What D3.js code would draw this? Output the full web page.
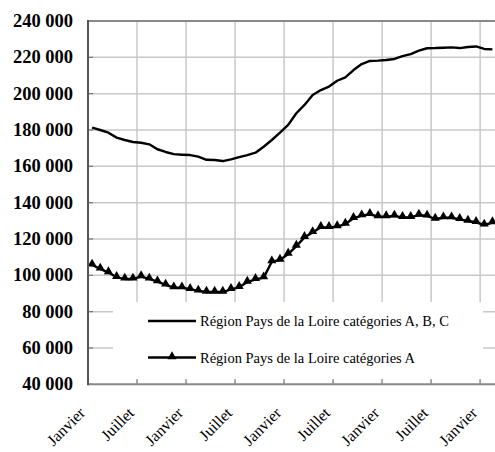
<!DOCTYPE html>
<html><head><meta charset="utf-8">
<script src="https://cdn.jsdelivr.net/npm/d3@7/dist/d3.min.js"></script>
<style>body{margin:0;background:#fff}svg{display:block}
text{font-family:"Liberation Serif","Times New Roman",Times,"DejaVu Serif",serif}</style>
</head><body>
<svg id="c" width="495" height="452"></svg>
<script>
const seriesNames = ["Région Pays de la Loire catégories A, B, C", "Région Pays de la Loire catégories A"];
const abc = [181300,180000,178500,175800,174500,173400,173000,172100,169400,167900,
  166700,166400,166200,165300,163600,163500,162900,163800,165100,166200,
  167500,170800,174500,178500,182800,189200,193800,199300,202000,203900,
  207100,209000,213000,216300,218000,218200,218500,219100,220700,221800,
  223700,225000,225100,225300,225500,225100,225700,226000,224600,224400];
const catA = [105700,103500,101500,98900,98000,98000,99300,98000,96500,94700,
  93200,93200,92300,91400,90800,90800,90800,92300,93400,96300,
  97800,98700,107500,108400,111700,116100,120900,123600,126400,126400,
  126800,128200,131400,132800,133600,132300,132300,132700,131900,131900,
  133200,132700,131000,131700,131700,130800,129900,129200,127700,129000];
const monthLabels = ["Janvier","Juillet","Janvier","Juillet","Janvier","Juillet","Janvier","Juillet","Janvier"];
const yTicks = [40000,60000,80000,100000,120000,140000,160000,180000,200000,220000,240000];

const svg = d3.select("#c");
const L = 88, T = 21, B = 384.3, n = abc.length, bw = 8.17;
const R = L + n * bw;
const idx = d3.range(n);
const x = d3.scaleBand().domain(idx).range([L, R]).padding(0);
const cx = i => x(i) + x.bandwidth() / 2;
const y = d3.scaleLinear().domain([40000, 240000]).range([B, T]);
const fmt = v => d3.format(",")(v).replace(/,/g, "\u00a0");

// gridlines
const g = svg.append("g");
g.selectAll(".hg").data(yTicks.slice(1, -1)).join("line")
  .attr("x1", L).attr("x2", R).attr("y1", d => y(d)).attr("y2", d => y(d))
  .attr("stroke", "#c8c8c8").attr("stroke-width", 1.5);
const vIdx = d3.range(6, n + 1, 6);
g.selectAll(".vg").data(vIdx).join("line")
  .attr("x1", d => L + d * x.bandwidth()).attr("x2", d => L + d * x.bandwidth())
  .attr("y1", T).attr("y2", B)
  .attr("stroke", "#c8c8c8").attr("stroke-width", 1.5);

// y ticks (inside)
svg.selectAll(".yt").data(yTicks).join("line")
  .attr("x1", L).attr("x2", L + 5).attr("y1", d => y(d)).attr("y2", d => y(d))
  .attr("stroke", "#777").attr("stroke-width", 1.2);

// lines
const line = d3.line().x((d, i) => cx(i)).y(d => y(d));
svg.append("path").datum(abc).attr("d", line).attr("fill", "none")
  .attr("stroke", "#000").attr("stroke-width", 2.4).attr("stroke-linejoin", "round");
svg.append("path").datum(catA).attr("d", line).attr("fill", "none")
  .attr("stroke", "#000").attr("stroke-width", 2.4).attr("stroke-linejoin", "round");
const tri = d3.symbol().type(d3.symbolTriangle).size(36);
svg.selectAll(".m").data(catA).join("path")
  .attr("d", tri).attr("transform", (d, i) => `translate(${cx(i)},${y(d) - 1})`)
  .attr("fill", "#000");

// legend box
const lg = svg.append("g");
lg.append("rect").attr("x", 113).attr("y", 302).attr("width", 370).attr("height", 77).attr("fill", "#fff");
const ly = [321, 357.5];
lg.selectAll(".ll").data(seriesNames).join("line")
  .attr("x1", 148).attr("x2", 196).attr("y1", (d, i) => ly[i]).attr("y2", (d, i) => ly[i])
  .attr("stroke", "#000").attr("stroke-width", 2.4);
lg.append("path").attr("d", tri).attr("transform", `translate(172,${ly[1] - 1})`).attr("fill", "#000");
lg.selectAll(".lt").data(seriesNames).join("text")
  .attr("x", 200).attr("y", (d, i) => ly[i] + 5)
  .attr("font-size", 14.5).attr("fill", "#000")
  .text(d => d);

// x ticks (inside, bottom)
svg.selectAll(".xt").data(d3.range(0, n + 1, 6)).join("line")
  .attr("x1", d => L + d * x.bandwidth()).attr("x2", d => L + d * x.bandwidth())
  .attr("y1", B - 5).attr("y2", B)
  .attr("stroke", "#999").attr("stroke-width", 1.5);

// axes / border
svg.append("line").attr("x1", L).attr("x2", R).attr("y1", T).attr("y2", T).attr("stroke", "#888").attr("stroke-width", 2);
svg.append("line").attr("x1", L).attr("x2", R).attr("y1", B).attr("y2", B).attr("stroke", "#888").attr("stroke-width", 2);
svg.append("line").attr("x1", L).attr("x2", L).attr("y1", T - 1).attr("y2", B + 1).attr("stroke", "#555").attr("stroke-width", 2);

// y labels
svg.selectAll(".yl").data(yTicks).join("text")
  .attr("x", 73).attr("y", d => y(d) + 6).attr("text-anchor", "end")
  .attr("font-weight", "bold").attr("font-size", 18.5)
  .attr("fill", "#000").text(d => fmt(d));

// x labels
svg.selectAll(".xl").data(monthLabels).join("text")
  .attr("text-anchor", "end")
  .attr("transform", (d, k) => `translate(${cx(k * 6) - 6},414) rotate(-45)`)
  .attr("font-size", 16).attr("fill", "#000")
  .text(d => d);
</script>
</body></html>
